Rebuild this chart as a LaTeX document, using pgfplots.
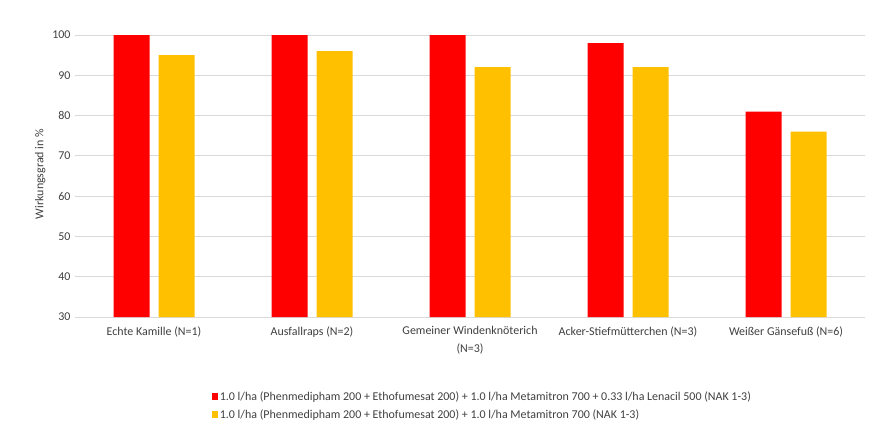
\documentclass[border=0pt]{standalone}
\usepackage{pgfplots}
\pgfplotsset{compat=1.18}
\usepackage{fontspec}
\setmainfont{Carlito}
\definecolor{cred}{HTML}{FF0000}
\definecolor{cyel}{HTML}{FFC000}
\definecolor{cgrid}{HTML}{D9D9D9}
\definecolor{ctext}{HTML}{404040}
\begin{document}
\begin{tikzpicture}[x=1bp,y=1bp]
\path[use as bounding box] (0,0) rectangle (880,424);
\begin{axis}[
  at={(75bp,107bp)}, anchor=south west,
  scale only axis, width=790bp, height=282bp,
  ybar=9bp, bar width=36bp,
  xmin=-0.5, xmax=4.5, ymin=30, ymax=100,
  ytick={30,40,...,100},
  xtick=data,
  xticklabels={Echte Kamille (N=1),Ausfallraps (N=2),{Gemeiner Windenknöterich\\(N=3)},Acker-Stiefmütterchen (N=3),Weißer Gänsefuß (N=6)},
  xticklabel style={align=center, font=\fontsize{12}{18}\selectfont, text=ctext, yshift=-6bp},
  yticklabel style={font=\fontsize{12}{14}\selectfont, text=ctext, xshift=-1bp},
  /pgf/number format/assume math mode=true,
  major tick length=0pt,
  axis x line*=bottom, axis y line*=left,
  x axis line style={draw=cgrid, -},
  y axis line style={draw=none},
  ymajorgrids, grid style={draw=cgrid, line width=0.8bp},
  ylabel={Wirkungsgrad in \%},
  ylabel style={font=\fontsize{12}{14}\selectfont, text=ctext, xshift=2bp},
  legend style={at={(0.173,-0.256)}, anchor=north west, draw=none, fill=none,
    font=\fontsize{12}{14}\selectfont, text=ctext, cells={anchor=west}, row sep=4bp, inner sep=0pt},
  legend image code/.code={\fill[#1] (0bp,-3.5bp) rectangle (6bp,3.5bp);},
  clip=false,
]
\addplot[fill=cred, draw=none] coordinates {(0,100) (1,100) (2,100) (3,98) (4,81)};
\addplot[fill=cyel, draw=none] coordinates {(0,95) (1,96) (2,92) (3,92) (4,76)};
\legend{1.0 l/ha (Phenmedipham 200 + Ethofumesat 200) + 1.0 l/ha Metamitron 700 + 0.33 l/ha Lenacil 500 (NAK 1-3),
1.0 l/ha (Phenmedipham 200 + Ethofumesat 200) + 1.0 l/ha Metamitron 700 (NAK 1-3)}
\end{axis}
\end{tikzpicture}
\end{document}
